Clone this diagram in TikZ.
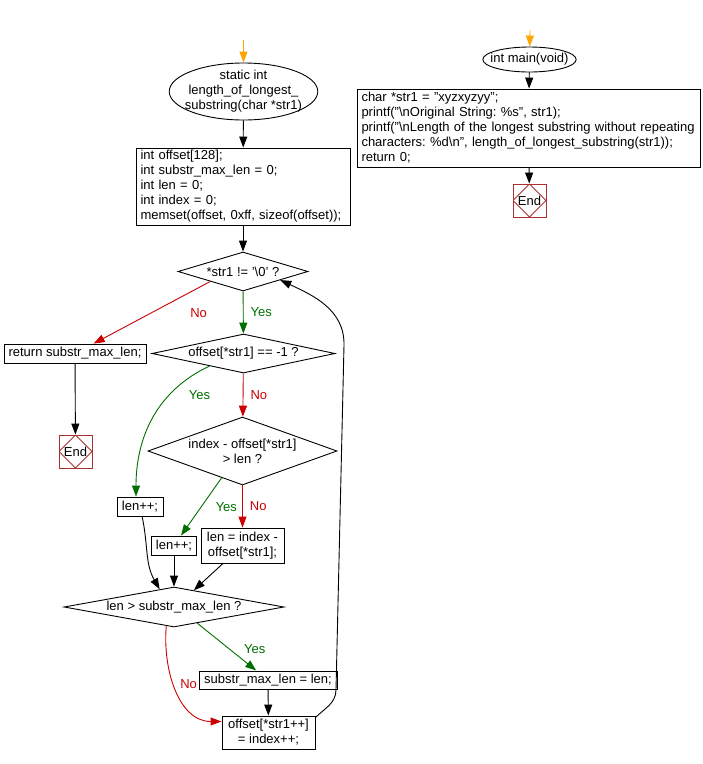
\documentclass[tikz,border=0pt]{standalone}
\usepackage{fontspec}
\setmainfont{Liberation Sans}
\usetikzlibrary{shapes.geometric,arrows.meta,calc}
\definecolor{flowgreen}{RGB}{0,110,0}
\definecolor{flowred}{RGB}{204,0,0}
\definecolor{floworange}{RGB}{255,165,0}
\definecolor{endred}{RGB}{170,50,50}
\frenchspacing

\begin{document}
\begin{tikzpicture}[x=1pt,y=1pt,line width=0.9pt,
  every node/.style={font=\fontsize{13}{15}\selectfont},
  startsh/.style={ellipse,draw,align=center,inner xsep=-6pt,inner ysep=-2pt},
  procbox/.style={draw,align=left,inner xsep=4.5pt,inner ysep=0pt},
  decide/.style={diamond,draw,align=center,inner sep=0pt},
  endsh/.style={draw=endred,minimum size=33pt,inner sep=0pt,
    path picture={\draw[endred] (path picture bounding box.north) -- (path picture bounding box.east)
      -- (path picture bounding box.south) -- (path picture bounding box.west) -- cycle;}},
  flow/.style={-{Triangle[length=11pt,width=8pt]}},
  yesflow/.style={flow,flowgreen},
  noflow/.style={flow,flowred},
  yeslbl/.style={text=flowgreen,inner sep=2pt},
  nolbl/.style={text=flowred,inner sep=2pt}]
\useasboundingbox (0,0) rectangle (703,-764);

% length_of_longest_substring
\coordinate (fnin) at (243.5,-40);
\node[startsh,minimum width=145pt,minimum height=57pt] (fn) at (243.5,-91.5)
  {static int\\length\_of\_longest\_\\substring(char *str1)};
\node[procbox,text width=205pt,minimum height=77pt] (init) at (243,-186.5)
  {int offset[128];\\int substr\_max\_len = 0;\\int len = 0;\\int index = 0;\\memset(offset, 0xff, sizeof(offset));};
\node[decide,aspect=3.33,minimum width=130pt,minimum height=39pt] (d1) at (243,-271.5)
  {*str1 != \symbol{39}\textbackslash 0\symbol{39} ?};
\node[decide,aspect=4.69,minimum width=183pt,minimum height=39pt] (d2) at (243.5,-353.5)
  {offset[*str1] == -1 ?};
\node[procbox,minimum width=142pt,minimum height=19pt] (ret) at (75,-353.5) {return substr\_max\_len;};
\node[endsh] (retend) at (75.5,-451.5) {End};
\node[decide,aspect=2.78,minimum width=189pt,minimum height=68pt] (d3) at (242.5,-451)
  {index - offset[*str1]\\> len ?};
\node[procbox,minimum width=46pt,minimum height=19pt] (len1) at (140,-506.5) {len++;};
\node[procbox,minimum width=44pt,minimum height=19pt] (len2) at (174,-545.5) {len++;};
\node[procbox,align=center,minimum width=83pt,minimum height=35pt] (calc) at (242.5,-545.5)
  {len = index -\\offset[*str1];};
\node[decide,aspect=5.5,minimum width=220pt,minimum height=40pt] (d4) at (174,-607)
  {len > substr\_max\_len ?};
\node[procbox,minimum width=138pt,minimum height=18pt] (upd) at (268,-680) {substr\_max\_len = len;};
\node[procbox,align=center,minimum width=93pt,minimum height=33pt] (off) at (268.5,-732.5)
  {offset[*str1++]\\= index++;};
\coordinate (loopb) at (336,-690);
\coordinate (loopt) at (344,-345);

\draw[flow,floworange] (fnin) -- (fn);
\draw[flow] (fn) -- (init);
\draw[flow] (init) -- (d1);
\draw[yesflow] (d1) -- node[yeslbl,right=5pt]{Yes} (d2);
\draw[noflow] (d1.south west) -- node[nolbl,pos=0.1,below=18pt]{No} (ret);
\draw[flow] (ret) -- (retend);
\draw[noflow] (d2) -- node[nolbl,right=5pt]{No} (d3);
\draw[yesflow] ($(d2.south)!0.37!(d2.west)$) to[out=205,in=90]
  node[yeslbl,pos=0,below=22pt,xshift=-10pt]{Yes} ([xshift=-4pt]len1.north);
\draw[yesflow] ($(d3.south)!0.22!(d3.west)$) -- node[yeslbl,pos=0.5,right=12pt]{Yes} (len2);
\draw[noflow] (d3) -- node[nolbl,right=5pt]{No} (calc);
\draw[flow] (len1) to[out=-78,in=120] ($(d4.north)!0.13!(d4.west)$);
\draw[flow] (len2) -- (d4);
\draw[flow] (calc) -- ($(d4.north)!0.18!(d4.east)$);
\draw[yesflow] ($(d4.south)!0.21!(d4.east)$) -- node[yeslbl,pos=0.55,right=12pt]{Yes} (upd);
\draw[noflow] ($(d4.south)!0.07!(d4.west)$) to[out=-95,in=180]
  node[nolbl,pos=0.45,right=4pt]{No} ([yshift=11pt]off.west);
\draw[flow] (upd) -- (off);
\draw[flow] ([yshift=-2pt]off.north east) to[out=45,in=-91] (loopb) -- (loopt)
  to[out=89,in=-25] ($(d1.south)!0.57!(d1.east)$);

% main
\coordinate (mainin) at (530,-30);
\node[startsh,minimum width=91pt,minimum height=25pt] (main) at (529.5,-59.5) {int main(void)};
\node[procbox,text width=334pt,minimum height=78pt] (mbox) at (528.5,-128)
  {char *str1 = \symbol{34}xyzxyzyy\symbol{34};\\
   printf(\symbol{34}\textbackslash nOriginal String: \%s\symbol{34}, str1);\\
   printf(\symbol{34}\textbackslash nLength of the longest substring without repeating\\
   characters: \%d\textbackslash n\symbol{34}, length\_of\_longest\_substring(str1));\\
   return 0;};
\node[endsh] (mend) at (529.5,-200.5) {End};
\draw[flow,floworange] (mainin) -- (main);
\draw[flow] (main) -- (mbox);
\draw[flow] (mbox) -- (mend);
\end{tikzpicture}
\end{document}
